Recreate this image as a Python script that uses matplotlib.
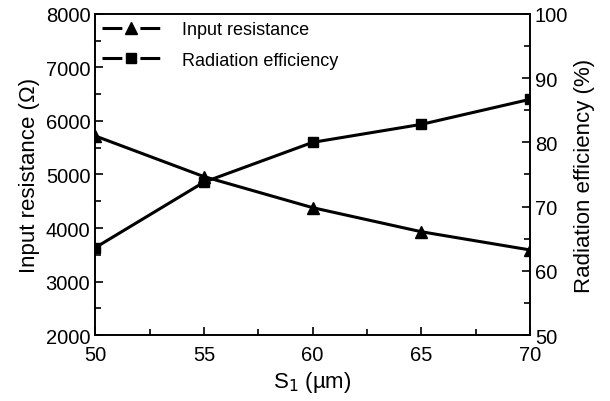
import numpy as np
import matplotlib.pyplot as plt
from matplotlib.ticker import MultipleLocator
from matplotlib.lines import Line2D

plt.rcParams['font.family'] = ['Liberation Sans', 'DejaVu Sans']

# data
s1 = [50, 55, 60, 65, 70]
r_in = [5720, 4960, 4380, 3930, 3590]
eff = [63.6, 73.8, 80.0, 82.8, 86.7]

fig = plt.figure(figsize=(6.1, 4.02), dpi=100)
ax = fig.add_axes([0.156, 0.164, 0.713, 0.799])
ax2 = ax.twinx()

ax.plot(s1, r_in, '-^', color='black', lw=2.2, markersize=8)
ax2.plot(s1, eff, '-s', color='black', lw=2.2, markersize=7)

ax.set_xlim(50, 70)
ax.set_ylim(2000, 8000)
ax2.set_ylim(50, 100)
ax.xaxis.set_major_locator(MultipleLocator(5))
ax.xaxis.set_minor_locator(MultipleLocator(2.5))
ax.yaxis.set_major_locator(MultipleLocator(1000))
ax.yaxis.set_minor_locator(MultipleLocator(500))
ax2.yaxis.set_major_locator(MultipleLocator(10))
ax2.yaxis.set_minor_locator(MultipleLocator(5))

for a in (ax, ax2):
    a.tick_params(which='both', direction='in', labelsize=14.5, width=1.2)
    a.tick_params(which='major', length=6)
    a.tick_params(which='minor', length=4)
    for sp in a.spines.values():
        sp.set_linewidth(1.2)
ax.tick_params(axis='x', pad=7)

ax.set_xlabel('S$_1$ (µm)', fontsize=16, labelpad=4)
ax.set_ylabel('Input resistance (Ω)', fontsize=16)
ax2.set_ylabel('Radiation efficiency (%)', fontsize=16)

# legend handles: line - marker - line with small gaps
h1 = Line2D([], [], color='black', lw=2.2, marker='^', markersize=8, dashes=(6.5, 5.9))
h2 = Line2D([], [], color='black', lw=2.2, marker='s', markersize=7, dashes=(6.5, 5.9))
ax.legend([h1, h2], ['Input resistance', 'Radiation efficiency'], loc='upper left',
          frameon=False, fontsize=13, handlelength=3.2, handletextpad=1.2,
          borderaxespad=0.0, labelspacing=0.75)

plt.savefig('out.png', dpi=100)
